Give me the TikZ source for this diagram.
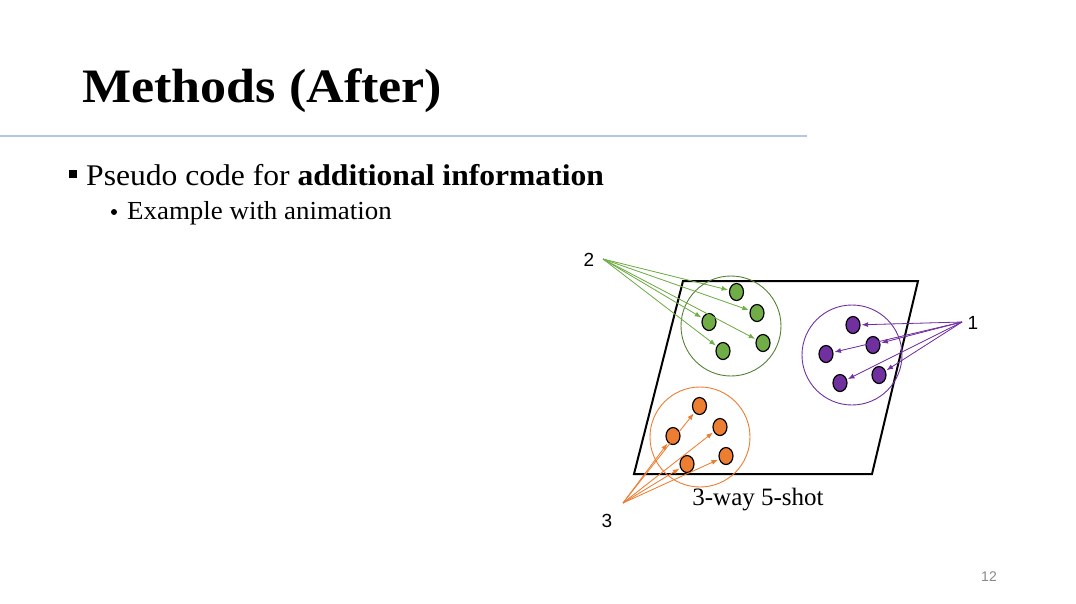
\documentclass[tikz,border=0pt]{standalone}
\usepackage{fontspec}
\setmainfont{Liberation Serif}
\newfontfamily\labelfont{Liberation Sans}
\usetikzlibrary{arrows.meta,shapes.geometric}
\definecolor{rulecol}{HTML}{B4C7E7}
\definecolor{grnfill}{HTML}{70AD47}
\definecolor{grnline}{HTML}{548235}
\definecolor{purfill}{HTML}{7030A0}
\definecolor{orgfill}{HTML}{ED7D31}
\definecolor{pagegray}{HTML}{898989}
\begin{document}
\begin{tikzpicture}[x=1pt,y=-1pt,
  dotshape/.style={ellipse, draw=black, line width=1.2pt, minimum width=14pt, minimum height=17pt, inner sep=0pt},
  gdot/.style={dotshape, fill=grnfill},
  pdot/.style={dotshape, fill=purfill},
  odot/.style={dotshape, fill=orgfill},
  cluster/.style={circle, minimum size=100pt, inner sep=0pt, line width=0.9pt},
  tip/.style={-{Latex[length=6.5pt,width=5pt]}, line width=0.8pt, shorten >=1pt},
  garrow/.style={tip, draw=grnfill, fill=grnfill},
  parrow/.style={tip, draw=purfill, fill=purfill},
  oarrow/.style={tip, draw=orgfill, fill=orgfill},
  numlabel/.style={font=\labelfont\fontsize{19}{22}\selectfont, inner sep=0pt},
]
\useasboundingbox (0,0) rectangle (1076,603);

% slide header
\node[anchor=base west, inner sep=0pt, xscale=1.085, font=\bfseries\fontsize{48}{56}\selectfont] (title) at (82,102) {Methods (After)};
\draw[rulecol, line width=2pt] (0,136) -- (807,136);

% bullets
\node[fill=black, minimum size=8pt, inner sep=0pt] (sq) at (73,174) {};
\node[anchor=base west, inner sep=0pt, xscale=1.053, font=\fontsize{30}{36}\selectfont] (b1) at (86,185) {Pseudo code for \textbf{additional information}};
\node[circle, fill=black, minimum size=6pt, inner sep=0pt] (dt) at (114,212) {};
\node[anchor=base west, inner sep=0pt, xscale=1.035, font=\fontsize{26}{31}\selectfont] (b2) at (127,219) {Example with animation};

% support set
\draw[line width=2pt, line join=miter] (683,281) -- (918,281) -- (872,474) -- (634,474) -- cycle;

% clusters
\node[cluster, draw=grnline] (gc) at (731,326) {};
\node[cluster, draw=purfill] (pc) at (852,355) {};
\node[cluster, draw=orgfill] (oc) at (700,437) {};

% class 2 samples
\node[gdot] (g1) at (736.5,292) {};
\node[gdot] (g2) at (757,313) {};
\node[gdot] (g3) at (709,322) {};
\node[gdot] (g4) at (763,343) {};
\node[gdot] (g5) at (723,351) {};

% class 1 samples
\node[pdot] (p1) at (853,325) {};
\node[pdot] (p2) at (873,345) {};
\node[pdot] (p3) at (826,354) {};
\node[pdot] (p4) at (879,375) {};
\node[pdot] (p5) at (840,383) {};

% class 3 samples
\node[odot] (o1) at (699.5,406) {};
\node[odot] (o2) at (673,436) {};
\node[odot] (o3) at (720,427) {};
\node[odot] (o4) at (726,456) {};
\node[odot] (o5) at (687,464) {};

% class labels and arrow origins
\node[numlabel] (l2) at (589,260) {2};
\coordinate (s2) at (603,259);
\node[numlabel] (l1) at (973,323) {1};
\coordinate (s1) at (962,322);
\node[numlabel] (l3) at (607,521) {3};
\coordinate (s3) at (623,503);

\foreach \d in {g1,g2,g3,g4,g5} \draw[garrow] (s2) -- (\d);
\foreach \d in {p1,p2,p3,p4,p5} \draw[parrow] (s1) -- (\d);
\foreach \d in {o1,o2,o3,o4,o5} \draw[oarrow] (s3) -- (\d);

\node[anchor=base, inner sep=0pt, font=\fontsize{25}{30}\selectfont] (cap) at (758,505) {3-way 5-shot};

% page number
\node[text=pagegray, font=\labelfont\fontsize{14}{16}\selectfont, inner sep=0pt] (pg) at (989,577) {12};
\end{tikzpicture}
\end{document}
